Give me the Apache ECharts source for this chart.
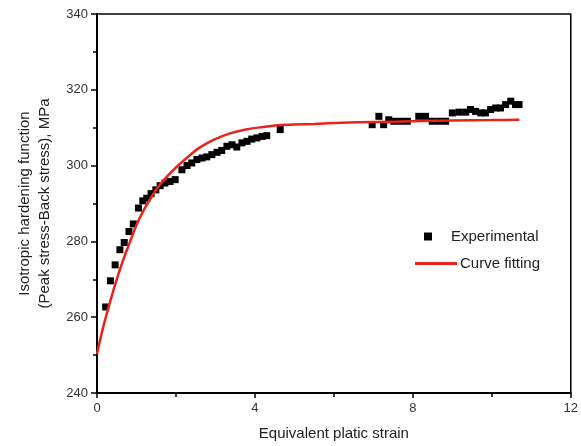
<!DOCTYPE html>
<html>
<head>
<meta charset="utf-8">
<style>
  html, body { margin: 0; padding: 0; background: #fff; }
  #chart { width: 581px; height: 446px; }
</style>
<script src="https://cdn.jsdelivr.net/npm/echarts@6/dist/echarts.min.js"></script>
</head>
<body>
<div id="chart"></div>
<script>
// Measured isotropic hardening (peak stress minus back stress) vs equivalent plastic strain
const expStrain = [0.22, 0.34, 0.46, 0.58, 0.69, 0.81, 0.92, 1.05, 1.16, 1.26, 1.37, 1.49, 1.60, 1.72, 1.85, 1.98,
  2.15, 2.28, 2.40, 2.53, 2.66, 2.78, 2.91, 3.04, 3.16, 3.29, 3.42, 3.54, 3.67, 3.80, 3.92, 4.05, 4.18, 4.30, 4.64,
  6.97, 7.14, 7.26, 7.39, 7.52, 7.69, 7.86, 8.15, 8.32, 8.49, 8.66, 8.83, 9.00, 9.17, 9.34, 9.46, 9.59, 9.72, 9.84,
  9.97, 10.10, 10.22, 10.35, 10.48, 10.60, 10.69];
const expStress = [262.7, 269.6, 273.8, 277.8, 279.7, 282.6, 284.6, 288.8, 290.7, 291.4, 292.6, 293.6, 294.7, 295.4, 295.8, 296.3,
  298.9, 300.0, 300.7, 301.6, 302.0, 302.3, 302.9, 303.5, 304.0, 305.1, 305.5, 304.9, 306.0, 306.4, 307.0, 307.3, 307.7, 307.9, 309.5,
  310.8, 313.0, 310.8, 312.1, 311.7, 311.7, 311.7, 313.0, 313.0, 311.7, 311.7, 311.7, 313.9, 314.1, 314.1, 314.8, 314.3, 313.9, 313.9,
  314.8, 315.2, 315.2, 316.1, 317.0, 316.1, 316.1];

// Fitted hardening curve
const fitStrain = [0, 0.16, 0.33, 0.5, 0.67, 0.84, 1.0, 1.17, 1.34, 1.51, 1.72, 2.0, 2.36, 2.61, 2.95, 3.37, 3.8, 4.22, 4.64,
  5.5, 6.2, 7.0, 8.0, 9.0, 10.0, 10.7];
const fitStress = [250.3, 257.5, 264.0, 270.0, 275.3, 280.0, 284.3, 288.0, 291.0, 293.8, 296.5, 299.5, 302.8, 304.8, 306.8, 308.5,
  309.6, 310.2, 310.7, 311.0, 311.3, 311.5, 311.7, 311.9, 312.0, 312.1];

const xTicks = { min: 0, max: 12, step: 4 };
const yTicks = { min: 240, max: 340, step: 20 };

const zip = (a, b) => a.map((v, i) => [v, b[i]]);

const font = 'Liberation Sans, Arial, sans-serif';
const textColor = '#333';
const fitColor = '#e8231c';

const chart = echarts.init(document.getElementById('chart'), null, { renderer: 'canvas' });
chart.setOption({
  animation: false,
  backgroundColor: '#fff',
  grid: {
    left: 97, right: 10, top: 14, bottom: 53,
    show: true, borderColor: '#000', borderWidth: 1.5, backgroundColor: 'transparent'
  },
  legend: [
    {
      data: [{ name: 'Experimental', icon: 'rect' }],
      left: 419, top: 224,
      itemWidth: 8, itemHeight: 8,
      textStyle: { fontFamily: font, fontSize: 15, color: '#222', padding: [0, 0, 0, 14] }
    },
    {
      data: [{ name: 'Curve fitting', icon: 'rect', itemStyle: { color: fitColor } }],
      left: 410, top: 251,
      itemWidth: 42, itemHeight: 3,
      textStyle: { fontFamily: font, fontSize: 15, color: '#222', padding: [0, 0, 0, -2] }
    }
  ],
  xAxis: {
    type: 'value',
    min: xTicks.min, max: xTicks.max, interval: xTicks.step,
    name: 'Equivalent platic strain',
    nameLocation: 'middle', nameGap: 33,
    nameTextStyle: { fontFamily: font, fontSize: 15, color: '#222' },
    axisLine: { onZero: false, lineStyle: { color: '#000', width: 2 } },
    axisTick: { inside: false, length: 5, lineStyle: { color: '#000', width: 1.5 } },
    minorTick: { show: true, splitNumber: 2, length: 4, lineStyle: { color: '#000', width: 1.5 } },
    axisLabel: { fontFamily: font, fontSize: 13, color: textColor, margin: 9 },
    splitLine: { show: false }
  },
  yAxis: {
    type: 'value',
    min: yTicks.min, max: yTicks.max, interval: yTicks.step,
    name: 'Isotropic hardening function\n(Peak stress-Back stress), MPa',
    nameLocation: 'middle', nameGap: 42,
    nameTextStyle: { fontFamily: font, fontSize: 15, color: '#222', lineHeight: 20 },
    axisLine: { onZero: false, lineStyle: { color: '#000', width: 2 } },
    axisTick: { inside: false, length: 6, lineStyle: { color: '#000', width: 1.5 } },
    minorTick: { show: true, splitNumber: 2, length: 4, lineStyle: { color: '#000', width: 1.5 } },
    axisLabel: { fontFamily: font, fontSize: 13, color: textColor, margin: 9 },
    splitLine: { show: false }
  },
  series: [
    {
      name: 'Experimental',
      type: 'scatter',
      symbol: 'rect',
      symbolSize: 7,
      itemStyle: { color: '#000', opacity: 1 },
      data: zip(expStrain, expStress),
      z: 2
    },
    {
      name: 'Curve fitting',
      type: 'line',
      smooth: 0.3,
      showSymbol: false,
      symbol: 'none',
      lineStyle: { color: fitColor, width: 2.5 },
      itemStyle: { color: fitColor },
      data: zip(fitStrain, fitStress),
      z: 3
    }
  ]
});
</script>
</body>
</html>
